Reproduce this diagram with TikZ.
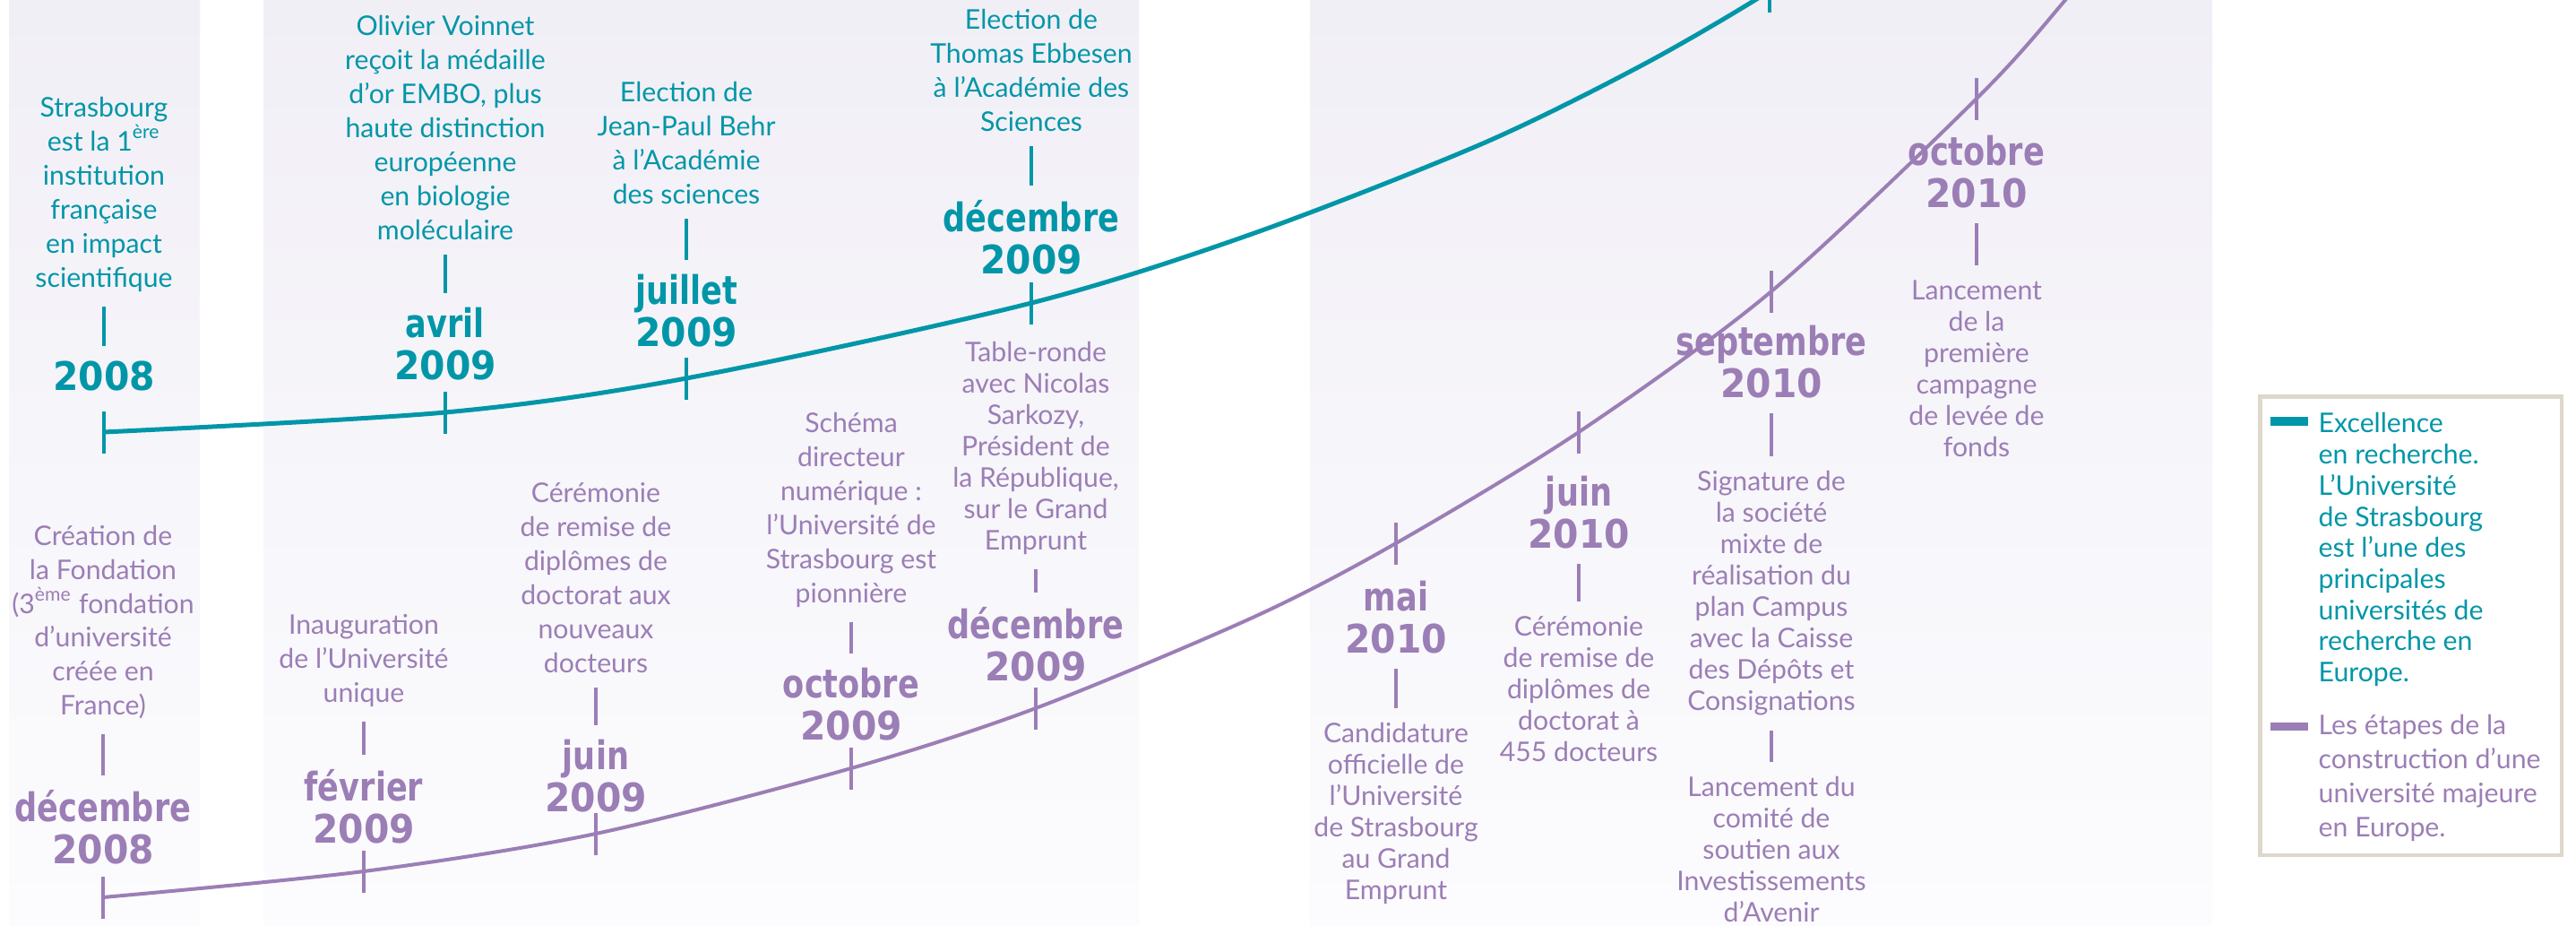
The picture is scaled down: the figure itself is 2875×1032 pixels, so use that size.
\documentclass[tikz,border=0pt]{standalone}
\usepackage{fontspec}
\setmainfont{Lato}
\newfontfamily\monthfont[FakeStretch=0.8]{DejaVu Sans}
\newfontfamily\yearfont[FakeStretch=0.93]{DejaVu Sans}

\definecolor{teallin}{RGB}{0,150,168}
\definecolor{purplin}{RGB}{156,126,182}
\definecolor{lavtop}{RGB}{241,239,246}
\definecolor{lavmid}{RGB}{235,230,241}
\definecolor{lavbot}{RGB}{252,252,254}
\definecolor{legbord}{RGB}{222,215,204}

\newcommand{\mois}[2]{{\monthfont\bfseries #1}\\{\yearfont\bfseries #2}}
\newcommand{\annee}[1]{{\yearfont\bfseries #1}}

\begin{document}
\begin{tikzpicture}
	[x=0.1mm,y=-0.1mm,every node/.style={inner sep=0pt,align=center},
	evtxt/.style={font=\fontsize{8.6}{10.8}\selectfont},
	evtight/.style={font=\fontsize{8.6}{9.95}\selectfont},
	datenode/.style={font=\fontsize{12.5}{13.4}\selectfont},
	tealtxt/.style={evtxt,text=teallin},
	purptxt/.style={evtxt,text=purplin},
	purptight/.style={evtight,text=purplin},
	tealdate/.style={datenode,text=teallin},
	purpdate/.style={datenode,text=purplin},
	tealline/.style={draw=teallin,line width=0.5mm},
	purpline/.style={draw=purplin,line width=0.4mm},
	tealtick/.style={draw=teallin,line width=0.45mm},
	purptick/.style={draw=purplin,line width=0.38mm},
	tlink/.style={tealtick,shorten <=1.6mm,shorten >=1.6mm},
	plink/.style={purptick,shorten <=1.6mm,shorten >=1.6mm},
	panel/.style={top color=lavtop,middle color=lavmid,bottom color=lavbot}]
	
	\useasboundingbox (0,0) rectangle (2875,1032);
	\clip (0,0) rectangle (2875,1032);
	\fill[white] (0,0) rectangle (2875,1032);
	
	% background bands
	\shade[panel] (10,0) rectangle (223,1032);
	\shade[panel] (294,0) rectangle (1271,1032);
	\shade[panel] (1462,0) rectangle (2469,1032);
	
	% points on the two curves
	\coordinate (tc1) at (116,482);
	\coordinate (tc2) at (497,460);
	\coordinate (tc3) at (766,422);
	\coordinate (tc4) at (1151,338);
	\coordinate (tc5) at (1975,-10);
	
	\coordinate (pc1) at (115,1001);
	\coordinate (pc2) at (406,972);
	\coordinate (pc3) at (665,930);
	\coordinate (pc4) at (950,857);
	\coordinate (pc5) at (1156,790);
	\coordinate (pc6) at (1558,606);
	\coordinate (pc7) at (1762,482);
	\coordinate (pc8) at (1977,325);
	\coordinate (pc9) at (2206,110);
	
	\draw[tealline] plot[smooth] coordinates {(tc1) (tc2) (tc3) (tc4) (1400,260) (1655,160) (1834,72) (tc5) (2100,-95)};
	\draw[purpline] plot[smooth] coordinates {(pc1) (pc2) (pc3) (pc4) (pc5) (1400,688) (pc6) (pc7) (pc8) (pc9) (2305,0) (2400,-120)};
	
	\foreach \cc in {tc1,tc2,tc3,tc4,tc5}
	\draw[tealtick] (\cc) ++(0,-23) -- ++(0,47);
	\foreach \cc in {pc1,pc2,pc3,pc4,pc5,pc6,pc7,pc8,pc9}
	\draw[purptick] (\cc) ++(0,-23) -- ++(0,47);
	
	% excellence en recherche
	\node[tealtxt,anchor=south] (t1) at (116,326) {Strasbourg\\est la 1\textsuperscript{ère}\\institution\\française\\en impact\\scientifique};
	\node[tealdate,anchor=south] (td1) at (116,437) {\annee{2008}};
	\node[tealtxt,anchor=south] (t2) at (497,268) {Olivier Voinnet\\reçoit la médaille\\d’or EMBO, plus\\haute distinction\\européenne\\en biologie\\moléculaire};
	\node[tealdate,anchor=south] (td2) at (497,425) {\mois{avril}{2009}};
	\node[tealtxt,anchor=south] (t3) at (766,228) {Election de\\Jean-Paul Behr\\à l’Académie\\des sciences};
	\node[tealdate,anchor=south] (td3) at (766,388) {\mois{juillet}{2009}};
	\node[tealtxt,anchor=south] (t4) at (1151,147) {Election de\\Thomas Ebbesen\\à l’Académie des\\Sciences};
	\node[tealdate,anchor=south] (td4) at (1151,307) {\mois{décembre}{2009}};
	
	% etapes de la construction
	\node[purptxt,anchor=south] (p1) at (115,803) {Création de\\la Fondation\\(3\textsuperscript{ème} fondation\\d’université\\créée en\\France)};
	\node[purpdate,anchor=south] (pd1) at (115,965) {\mois{décembre}{2008}};
	\node[purptxt,anchor=south] (p2) at (406,789) {Inauguration\\de l’Université\\unique};
	\node[purpdate,anchor=south] (pd2) at (406,942) {\mois{février}{2009}};
	\node[purptxt,anchor=south] (p3) at (665,751) {Cérémonie\\de remise de\\diplômes de\\doctorat aux\\nouveaux\\docteurs};
	\node[purpdate,anchor=south] (pd3) at (665,907) {\mois{juin}{2009}};
	\node[purptxt,anchor=south] (p4) at (950,678) {Schéma\\directeur\\numérique :\\l’Université de\\Strasbourg est\\pionnière};
	\node[purpdate,anchor=south] (pd4) at (950,827) {\mois{octobre}{2009}};
	\node[purptight,anchor=south] (p5) at (1156,619) {Table-ronde\\avec Nicolas\\Sarkozy,\\Président de\\la République,\\sur le Grand\\Emprunt};
	\node[purpdate,anchor=south] (pd5) at (1156,761) {\mois{décembre}{2009}};
	
	\node[purpdate,anchor=south] (pd6) at (1558,730) {\mois{mai}{2010}};
	\node[purptight,anchor=north] (p6) at (1558,806) {Candidature\\officielle de\\l’Université\\de Strasbourg\\au Grand\\Emprunt};
	\node[purpdate,anchor=south] (pd7) at (1762,613) {\mois{juin}{2010}};
	\node[purptight,anchor=north] (p7) at (1762,687) {Cérémonie\\de remise de\\diplômes de\\doctorat à\\455 docteurs};
	\node[purpdate,anchor=south] (pd8) at (1977,445) {\mois{septembre}{2010}};
	\node[purptight,anchor=north] (p8) at (1977,525) {Signature de\\la société\\mixte de\\réalisation du\\plan Campus\\avec la Caisse\\des Dépôts et\\Consignations};
	\node[purptight,anchor=north] (p9) at (1977,866) {Lancement du\\comité de\\soutien aux\\Investissements\\d’Avenir};
	\node[purpdate,anchor=south] (pd9) at (2206,233) {\mois{octobre}{2010}};
	\node[purptight,anchor=north] (p10) at (2206,312) {Lancement\\de la\\première\\campagne\\de levée de\\fonds};
	
	\foreach \from/\to in {t1/td1,t2/td2,t3/td3,t4/td4}
	\draw[tlink] (\from.south) -- (\to.north);
	\foreach \from/\to in {p1/pd1,p2/pd2,p3/pd3,p4/pd4,p5/pd5,pd6/p6,pd7/p7,pd8/p8,p8/p9,pd9/p10}
	\draw[plink] (\from.south) -- (\to.north);
	
	% legend
	\node[draw=legbord,line width=0.45mm,minimum width=33.65mm,minimum height=51.15mm] (legend) at (2690.5,698) {};
	\node[fill=teallin,minimum width=4.2mm,minimum height=0.95mm] (keyT) at (2555,470) {};
	\node[fill=purplin,minimum width=4.2mm,minimum height=0.9mm] (keyP) at (2555,810) {};
	\node[anchor=north west,align=left,text=teallin,font=\fontsize{8.6}{9.87}\selectfont] (legT) at (2587,460) {Excellence\\en recherche.\\L’Université\\de Strasbourg\\est l’une des\\principales\\universités de\\recherche en\\Europe.};
	\node[anchor=north west,align=left,text=purplin,font=\fontsize{8.6}{10.78}\selectfont] (legP) at (2587,797) {Les étapes de la\\construction d’une\\université majeure\\en Europe.};
\end{tikzpicture}
\end{document}
